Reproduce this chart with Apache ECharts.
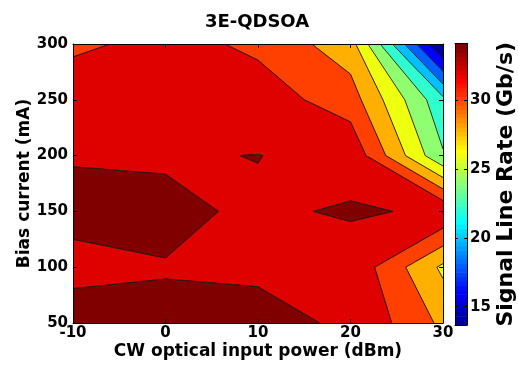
<!DOCTYPE html>
<html>
<head>
<meta charset="utf-8">
<script src="https://cdn.jsdelivr.net/npm/echarts@6/dist/echarts.min.js"></script>
<style>
html, body { margin: 0; padding: 0; background: #fff; }
#chart { width: 518px; height: 376px; }
</style>
</head>
<body>
<div id="chart"></div>
<script>
// grid of measurements: CW power (dBm) x bias current (mA)
const power = [-10, 0, 10, 20, 30]
const bias = [50, 100, 150, 200, 250, 300]
// signal line rate (Gb/s), one row per bias current, columns follow power
const rate50 = [34.16, 34.15, 34.10, 33.95, 29.57]
const rate100 = [33.90, 33.96, 33.946, 33.55, 27.60]
const rate150 = [34.10, 34.20, 33.85, 34.10, 33.88]
const rate200 = [33.975, 33.90, 34.024, 33.57, 24.20]
const rate250 = [33.65, 33.50, 33.03, 30.97, 22.50]
const rate300 = [31.50, 32.75, 31.58, 28.86, 13.67]
const rates = [rate50, rate100, rate150, rate200, rate250, rate300]

const levels = [14, 16, 18, 20, 22, 24, 26, 28, 30, 32, 34]
const cbTicks = [15, 20, 25, 30]
const cMin = 13.67
const cMax = 34.11

const FONT = 'DejaVu Sans'

// matlab jet, k = 1..64
function jet (k) {
  const x = k / 64
  const f = v => Math.round(Math.max(0, Math.min(1, v)) * 255)
  const r = f(1.5 - Math.abs(4 * x - 3))
  const g = f(1.5 - Math.abs(4 * x - 2))
  const b = f(1.5 - Math.abs(4 * x - 1))
  return 'rgb(' + r + ',' + g + ',' + b + ')'
}
function levelColor (v) {
  let k = Math.floor((v - cMin) / (cMax - cMin) * 64) + 1
  k = Math.max(1, Math.min(64, k))
  return jet(k)
}

function corners (i, j) {
  const idx = [[i, j], [i + 1, j], [i + 1, j + 1], [i, j + 1]]
  return idx.map(p => ({ x: power[p[0]], y: bias[p[1]], z: rates[p[1]][p[0]] }))
}
function cross (p, q, L) {
  const t = (L - p.z) / (q.z - p.z)
  return [p.x + t * (q.x - p.x), p.y + t * (q.y - p.y)]
}
function isSaddle (hi) {
  return hi[0] === hi[2] && hi[1] === hi[3] && hi[0] !== hi[1]
}
function avgOf (c) {
  return (c[0].z + c[1].z + c[2].z + c[3].z) / 4
}
// region z >= L inside one cell
function bandPolys (c, L) {
  const hi = c.map(p => p.z >= L)
  const n = hi.filter(Boolean).length
  if (n === 0) return []
  if (n === 4) return [c.map(p => [p.x, p.y])]
  if (isSaddle(hi) && avgOf(c) < L) {
    const out = []
    for (let k = 0; k < 4; k++) {
      if (!hi[k]) continue
      const prev = c[(k + 3) % 4]
      const next = c[(k + 1) % 4]
      out.push([cross(prev, c[k], L), [c[k].x, c[k].y], cross(c[k], next, L)])
    }
    return out
  }
  const pts = []
  for (let k = 0; k < 4; k++) {
    const p = c[k]
    const q = c[(k + 1) % 4]
    if (hi[k]) pts.push([p.x, p.y])
    if (hi[k] !== hi[(k + 1) % 4]) pts.push(cross(p, q, L))
  }
  return [pts]
}
function lineSegs (c, L) {
  const hi = c.map(p => p.z >= L)
  const n = hi.filter(Boolean).length
  if (n === 0 || n === 4) return []
  const e = []
  for (let k = 0; k < 4; k++) {
    if (hi[k] !== hi[(k + 1) % 4]) e[k] = cross(c[k], c[(k + 1) % 4], L)
  }
  if (!isSaddle(hi)) {
    const pts = e.filter(Boolean)
    return [[pts[0], pts[1]]]
  }
  const keepHigh = avgOf(c) < L
  const segs = []
  for (let k = 0; k < 4; k++) {
    if (hi[k] === keepHigh) segs.push([e[(k + 3) % 4], e[k]])
  }
  return segs
}

// cells, and (level, cell) pairs painted level by level so strokes never bleed
const cells = []
for (let j = 0; j < bias.length - 1; j++) {
  for (let i = 0; i < power.length - 1; i++) {
    cells.push([power[i], bias[j], i, j])
  }
}
const fillItems = []
for (let li = -1; li < levels.length; li++) {
  cells.forEach(c => fillItems.push([c[0], c[1], c[2], c[3], li]))
}

const baseColor = jet(1)

function renderFill (params, api) {
  const c = corners(api.value(2), api.value(3))
  const li = api.value(4)
  const toPx = pts => pts.map(p => api.coord(p))
  const children = []
  if (li < 0) {
    children.push({
      type: 'polygon',
      shape: { points: toPx(c.map(p => [p.x, p.y])) },
      style: { fill: baseColor, stroke: baseColor, lineWidth: 1 }
    })
  } else {
    const L = levels[li]
    const col = levelColor(L)
    bandPolys(c, L).forEach(poly => {
      children.push({
        type: 'polygon',
        shape: { points: toPx(poly) },
        style: { fill: col, stroke: col, lineWidth: 1 }
      })
    })
  }
  return { type: 'group', children: children }
}

function renderLines (params, api) {
  const c = corners(api.value(2), api.value(3))
  const children = []
  levels.forEach(L => {
    lineSegs(c, L).forEach(s => {
      const a = api.coord(s[0])
      const b = api.coord(s[1])
      children.push({
        type: 'line',
        shape: { x1: a[0], y1: a[1], x2: b[0], y2: b[1] },
        style: { stroke: '#1a1a1a', lineWidth: 0.9 }
      })
    })
  })
  return { type: 'group', children: children }
}

// colour bar rows
const cbRows = []
for (let k = 1; k <= 64; k++) {
  cbRows.push([0.5, cMin + (k - 0.5) * (cMax - cMin) / 64, k])
}
function renderBar (params, api) {
  const k = api.value(2)
  const v0 = cMin + (k - 1) * (cMax - cMin) / 64
  const v1 = cMin + k * (cMax - cMin) / 64
  const p0 = api.coord([0, v0])
  const p1 = api.coord([1, v1])
  return {
    type: 'rect',
    shape: { x: p0[0], y: p1[1], width: p1[0] - p0[0], height: p0[1] - p1[1] + 0.6 },
    style: { fill: jet(k) }
  }
}

const labelStyle = { fontFamily: FONT, fontWeight: 'bold', fontSize: 15, color: '#000' }
const lineStyle = { color: '#000', width: 1 }
const axisLine = { show: true, onZero: false, lineStyle: lineStyle }
const nameStyle = { fontFamily: FONT, fontWeight: 'bold', fontSize: 17, color: '#000' }

const options = {
  animation: false,
  backgroundColor: '#fff',
  title: {
    text: '3E-QDSOA',
    left: 252,
    top: 8,
    textAlign: 'center',
    textStyle: { fontFamily: FONT, fontWeight: 'bold', fontSize: 18, color: '#000' }
  },
  grid: [
    { left: 73, right: 75, top: 44, bottom: 53 },
    { left: 455, width: 14, top: 43.5, height: 281.5 }
  ],
  xAxis: [
    {
      type: 'value', gridIndex: 0, min: -10, max: 30, interval: 10, z: 10,
      name: 'CW optical input power (dBm)', nameLocation: 'middle', nameGap: 20,
      nameMoveOverlap: false, nameTextStyle: nameStyle,
      axisLine: axisLine,
      axisTick: { inside: true, length: 4, lineStyle: lineStyle },
      axisLabel: Object.assign({ margin: 3 }, labelStyle),
      splitLine: { show: false }
    },
    {
      type: 'value', gridIndex: 0, position: 'top', min: -10, max: 30, interval: 10, z: 10,
      axisLine: axisLine,
      axisTick: { inside: true, length: 4, lineStyle: lineStyle },
      axisLabel: { show: false },
      splitLine: { show: false }
    },
    {
      type: 'value', gridIndex: 1, min: 0, max: 1, z: 10,
      axisLine: axisLine,
      axisTick: { show: false }, axisLabel: { show: false }, splitLine: { show: false }
    },
    {
      type: 'value', gridIndex: 1, position: 'top', min: 0, max: 1, z: 10,
      axisLine: axisLine,
      axisTick: { show: false }, axisLabel: { show: false }, splitLine: { show: false }
    }
  ],
  yAxis: [
    {
      type: 'value', gridIndex: 0, min: 50, max: 300, interval: 50, z: 10,
      name: 'Bias current (mA)', nameLocation: 'middle', nameGap: 40, nameRotate: 90,
      nameMoveOverlap: false, nameTextStyle: nameStyle,
      axisLine: axisLine,
      axisTick: { inside: true, length: 4, lineStyle: lineStyle },
      axisLabel: Object.assign({ margin: 5 }, labelStyle),
      splitLine: { show: false }
    },
    {
      type: 'value', gridIndex: 0, position: 'right', min: 50, max: 300, interval: 50, z: 10,
      axisLine: axisLine,
      axisTick: { inside: true, length: 4, lineStyle: lineStyle },
      axisLabel: { show: false },
      splitLine: { show: false }
    },
    {
      type: 'value', gridIndex: 1, position: 'right', min: cMin, max: cMax, z: 10,
      name: 'Signal Line Rate (Gb/s)', nameLocation: 'middle', nameGap: 28, nameRotate: 90,
      nameMoveOverlap: false,
      nameTextStyle: { fontFamily: FONT, fontWeight: 'bold', fontSize: 22, color: '#000' },
      axisLine: axisLine,
      axisTick: { inside: true, length: 3, lineStyle: lineStyle, customValues: cbTicks },
      axisLabel: Object.assign({ margin: 3, customValues: cbTicks }, labelStyle),
      splitLine: { show: false }
    },
    {
      type: 'value', gridIndex: 1, position: 'left', min: cMin, max: cMax, z: 10,
      axisLine: axisLine,
      axisTick: { inside: true, length: 3, lineStyle: lineStyle, customValues: cbTicks },
      axisLabel: { show: false },
      splitLine: { show: false }
    }
  ],
  series: [
    {
      type: 'custom', xAxisIndex: 0, yAxisIndex: 0, clip: true, z: 2,
      encode: { x: 0, y: 1 }, data: fillItems, renderItem: renderFill
    },
    {
      type: 'custom', xAxisIndex: 0, yAxisIndex: 0, clip: true, z: 3,
      encode: { x: 0, y: 1 }, data: cells, renderItem: renderLines
    },
    {
      type: 'custom', xAxisIndex: 2, yAxisIndex: 2, clip: true, z: 2,
      encode: { x: 0, y: 1 }, data: cbRows, renderItem: renderBar
    }
  ]
}

const chart = echarts.init(document.getElementById('chart'), null, { renderer: 'canvas' })
chart.setOption(options)
</script>
</body>
</html>
